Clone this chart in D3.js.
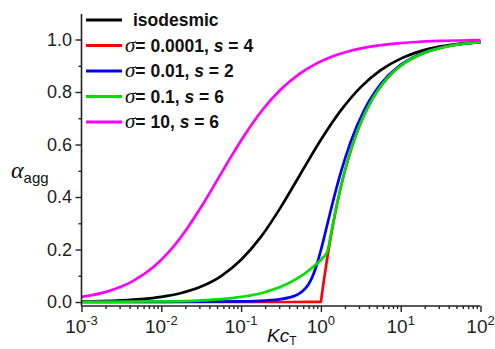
<!DOCTYPE html>
<html>
<head>
<meta charset="utf-8">
<script src="https://cdn.jsdelivr.net/npm/d3@7/dist/d3.min.js"></script>
<style>
  html, body { margin: 0; padding: 0; background: #fff; }
  svg { display: block; }
</style>
</head>
<body>
<svg id="chart" width="495" height="349"></svg>
<script>
// ---------------- data ----------------
const seriesNames = ["isodesmic", "σ = 0.0001, s = 4", "σ = 0.01, s = 2", "σ = 0.1, s = 6", "σ = 10, s = 6"];
const seriesColors = ["#000000", "#ff0000", "#0000ff", "#00e000", "#ff00ff"];
const legendSigma = ["0.0001", "0.01", "0.1", "10"];
const legendS = ["4", "2", "6", "6"];

const isoX = [0.001, 0.00178, 0.00316, 0.00562, 0.01, 0.0178, 0.0316, 0.0562, 0.1, 0.178, 0.316, 0.562, 1, 1.78, 3.16, 5.62, 10, 17.8, 31.6, 56.2, 100];
const isoY = [0.002, 0.0035, 0.0063, 0.0111, 0.0196, 0.0341, 0.0587, 0.0987, 0.1608, 0.2489, 0.3625, 0.4907, 0.618, 0.7298, 0.8185, 0.883, 0.927, 0.9556, 0.9735, 0.9844, 0.991];

const redX = [0.001, 0.01, 0.1, 0.5, 1.0, 1.02, 1.05, 1.1, 1.2, 1.35, 1.5, 1.75, 2, 2.5, 3, 4, 5, 7, 10, 15, 20, 30, 50, 70, 100];
const redY = [0, 0, 0, 0.0001, 0.0002, 0.0196, 0.0476, 0.0909, 0.1667, 0.2593, 0.3333, 0.4286, 0.5, 0.6, 0.6667, 0.75, 0.8, 0.8571, 0.9, 0.9333, 0.95, 0.9667, 0.98, 0.9857, 0.99];

const blueX = [0.001, 0.01, 0.1, 0.2011, 0.3031, 0.4071, 0.515, 0.6315, 0.6966, 0.7708, 0.8625, 0.992, 1.0861, 1.2193, 1.4823, 1.791, 2.3483, 3.5417, 4.7405, 6.9504, 8.8329, 11.738, 16.565, 25.47, 44.753, 64.177, 99.98];
const blueY = [0.00002, 0.0002, 0.0023, 0.0056, 0.0103, 0.0175, 0.0291, 0.0499, 0.0668, 0.0918, 0.1304, 0.1935, 0.2404, 0.3029, 0.4063, 0.4975, 0.6082, 0.7346, 0.7996, 0.8619, 0.8907, 0.9174, 0.9411, 0.9615, 0.978, 0.9846, 0.9901];

const greenX = [0.001, 0.01, 0.0316, 0.0562, 0.1, 0.1781, 0.2082, 0.3188, 0.434, 0.554, 0.679, 0.8094, 0.9453, 1.0155, 1.0876, 1.1635, 1.2002, 1.2288, 1.3183, 1.4265, 1.6248, 2.3376, 2.8265, 3.7264, 5.6696, 8.1683, 11.222, 21.627, 41.21, 100];
const greenY = [0.0002, 0.002, 0.0063, 0.0111, 0.0195, 0.0333, 0.0396, 0.0591, 0.0784, 0.0975, 0.1164, 0.1351, 0.1537, 0.163, 0.1725, 0.1835, 0.1918, 0.2025, 0.249, 0.3039, 0.3876, 0.5735, 0.6471, 0.7322, 0.8239, 0.8777, 0.911, 0.9538, 0.9758, 0.99];

const magX = [0.001, 0.0020825, 0.0043403, 0.0080934, 0.0123456, 0.02076, 0.0312393, 0.044389, 0.061008, 0.0821411, 0.1091376, 0.18808, 0.317617, 0.52783, 0.862721, 1.384562, 2.179, 5.08217, 9.116377, 15.7113, 30.70654, 75.8, 100];
const magY = [0.0195, 0.0396, 0.0784, 0.1351, 0.19, 0.2775, 0.3598, 0.4368, 0.5083, 0.5739, 0.6335, 0.7342, 0.8111, 0.8674, 0.9073, 0.935, 0.9541, 0.9764, 0.98519, 0.99045, 0.99446, 0.99736, 0.998];

const xTickExps = [-3, -2, -1, 0, 1, 2];
const yTickVals = [0.0, 0.2, 0.4, 0.6, 0.8, 1.0];
const yTickLabels = ["0.0", "0.2", "0.4", "0.6", "0.8", "1.0"];
const yMinorVals = [0.1, 0.3, 0.5, 0.7, 0.9];

// ---------------- layout ----------------
const svg = d3.select("#chart");
const x = d3.scaleLog().domain([1e-3, 1e2]).range([81.5, 480.5]);
const y = d3.scaleLinear().domain([-0.0152, 1.0971]).range([306, 14]);

const sansFont = "'Liberation Sans', Arial, sans-serif";
const serifFont = "'Liberation Serif', 'Times New Roman', serif";

// ---------------- curves ----------------
const line = d3.line()
  .x(d => x(d[0]))
  .y(d => y(d[1]))
  .curve(d3.curveMonotoneX);

const allSeries = [
  d3.zip(isoX, isoY),
  d3.zip(redX, redY),
  d3.zip(blueX, blueY),
  d3.zip(greenX, greenY),
  d3.zip(magX, magY)
];

const gCurves = svg.append("g");
allSeries.forEach((pts, i) => {
  gCurves.append("path")
    .attr("d", line(pts))
    .attr("fill", "none")
    .attr("stroke", seriesColors[i])
    .attr("stroke-width", 2.7)
    .attr("stroke-linejoin", "round");
});

// ---------------- axes ----------------
const axisColor = "#222";
const xMinor = [];
for (let e = -3; e < 2; e++) for (let m = 2; m <= 9; m++) xMinor.push(m * Math.pow(10, e));
const xMajor = xTickExps.map(e => Math.pow(10, e));

const gx = svg.append("g").attr("transform", "translate(0,306)");
gx.call(d3.axisBottom(x).tickValues(xMajor).tickSize(6).tickFormat(""));
gx.append("g").call(d3.axisBottom(x).tickValues(xMinor).tickSize(3).tickFormat(""));
gx.selectAll("path.domain").attr("stroke", axisColor).attr("stroke-width", 1.6).attr("d", "M81.5,0H480.5");
gx.selectAll("line").attr("stroke", axisColor).attr("stroke-width", 1.4);
gx.selectAll("g g path.domain").remove();

const xl = svg.append("g");
xTickExps.forEach(e => {
  const t = xl.append("text")
    .attr("x", x(Math.pow(10, e)))
    .attr("y", 333)
    .attr("text-anchor", "middle")
    .attr("font-family", sansFont)
    .attr("font-size", 19)
    .attr("fill", "#222");
  t.append("tspan").text("10");
  t.append("tspan").attr("dy", -8).attr("font-size", 13).text(e);
});

// y axis
const gy = svg.append("g").attr("transform", "translate(81.5,0)");
gy.call(d3.axisLeft(y).tickValues(yTickVals).tickSize(6).tickFormat(""));
gy.append("g").call(d3.axisLeft(y).tickValues(yMinorVals).tickSize(3).tickFormat(""));
gy.selectAll("path.domain").attr("stroke", axisColor).attr("stroke-width", 1.6).attr("d", "M0,14V306");
gy.selectAll("line").attr("stroke", axisColor).attr("stroke-width", 1.4);
gy.selectAll("g g path.domain").remove();

const yl = svg.append("g");
yTickVals.forEach((v, i) => {
  yl.append("text")
    .attr("x", 72)
    .attr("y", y(v))
    .attr("dy", "0.35em")
    .attr("text-anchor", "end")
    .attr("font-family", sansFont)
    .attr("font-size", 18)
    .attr("fill", "#222")
    .text(yTickLabels[i]);
});

// axis titles
const yt = svg.append("text")
  .attr("x", 11).attr("y", 178)
  .attr("fill", "#111");
yt.append("tspan").attr("font-family", serifFont).attr("font-style", "italic").attr("font-size", 24).text("α");
yt.append("tspan").attr("font-family", sansFont).attr("font-size", 15).attr("dy", 5).text("agg");

const xt = svg.append("text")
  .attr("x", 267).attr("y", 342)
  .attr("fill", "#111")
  .attr("font-family", sansFont);
xt.append("tspan").attr("font-style", "italic").attr("font-size", 19).text("Kc");
xt.append("tspan").attr("font-size", 12).attr("dy", 3).text("T");

// ---------------- legend ----------------
const lg = svg.append("g");
const rowY = [20, 45.5, 71, 96.5, 122];
seriesNames.forEach((name, i) => {
  lg.append("line")
    .attr("x1", 86).attr("x2", 122)
    .attr("y1", rowY[i]).attr("y2", rowY[i])
    .attr("stroke", seriesColors[i])
    .attr("stroke-width", 3);
  const t = lg.append("text")
    .attr("y", rowY[i])
    .attr("dy", "0.36em")
    .attr("font-family", sansFont)
    .attr("font-weight", "bold")
    .attr("font-size", 17.5)
    .attr("fill", "#111");
  if (i === 0) {
    t.attr("x", 133).text(name);
  } else {
    t.attr("x", 125);
    t.append("tspan").attr("font-family", serifFont).attr("font-style", "italic").attr("font-weight", "normal").attr("font-size", 21).text("σ");
    t.append("tspan").text("= " + legendSigma[i - 1] + ", ");
    t.append("tspan").attr("font-style", "italic").text("s");
    t.append("tspan").text(" = " + legendS[i - 1]);
  }
});
</script>
</body>
</html>
